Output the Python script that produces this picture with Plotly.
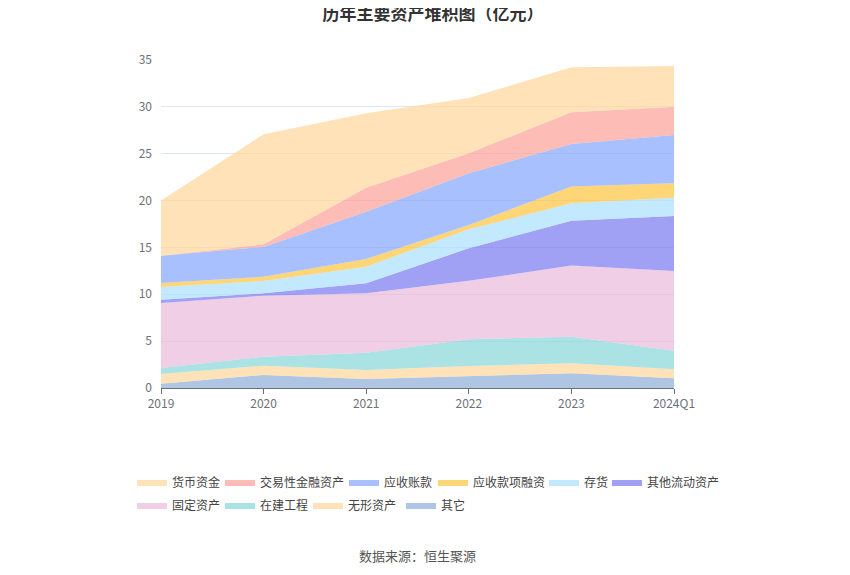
import plotly.graph_objects as go

# categories and values (亿元)
years = ['2019', '2020', '2021', '2022', '2023', '2024Q1']

# stacking order: bottom first
qita = [0.45, 1.39, 0.96, 1.28, 1.57, 1.03]          # 其它
wuxing = [1.05, 0.99, 0.96, 1.07, 1.06, 0.96]        # 无形资产
zaijian = [0.64, 0.96, 1.85, 2.84, 2.85, 1.99]       # 在建工程
guding = [6.93, 6.51, 6.33, 6.26, 7.58, 8.51]        # 固定资产
qita_liudong = [0.36, 0.25, 1.07, 3.46, 4.80, 5.87]  # 其他流动资产
cunhuo = [1.36, 1.32, 1.78, 2.02, 1.85, 1.95]        # 存货
rongzi = [0.42, 0.46, 0.82, 0.47, 1.78, 1.53]        # 应收款项融资
zhangkuan = [2.89, 3.17, 5.05, 5.51, 4.55, 5.16]     # 应收账款
jiaoyi = [0.0, 0.28, 2.56, 2.13, 3.38, 3.02]         # 交易性金融资产
huobi = [5.9, 11.74, 7.93, 5.91, 4.80, 4.35]         # 货币资金

series = [
    ('其它', qita, (139, 172, 217)),
    ('无形资产', wuxing, (255, 214, 153)),
    ('在建工程', zaijian, (135, 215, 216)),
    ('固定资产', guding, (232, 185, 219)),
    ('其他流动资产', qita_liudong, (120, 121, 240)),
    ('存货', cunhuo, (168, 224, 255)),
    ('应收款项融资', rongzi, (255, 197, 61)),
    ('应收账款', zhangkuan, (133, 165, 255)),
    ('交易性金融资产', jiaoyi, (253, 159, 152)),
    ('货币资金', huobi, (255, 214, 153)),
]

# legend entries laid out like the original: (name, left px of swatch, row)
legend_pos = [
    ('货币资金', 137, 0), ('交易性金融资产', 225, 0), ('应收账款', 349, 0),
    ('应收款项融资', 438, 0), ('存货', 549, 0), ('其他流动资产', 612, 0),
    ('固定资产', 137, 1), ('在建工程', 225, 1), ('无形资产', 313, 1), ('其它', 406, 1),
]
row_y = [-0.2866, -0.3567]

font = 'Noto Sans CJK SC'
fig = go.Figure()
legend_layout = {}
legend_of = {}
for i, (name, px, row) in enumerate(legend_pos):
    key = 'legend' if i == 0 else 'legend%d' % (i + 1)
    legend_layout[key] = dict(orientation='h', xanchor='left', yanchor='middle',
                              x=(px - 5 - 161) / 513, y=row_y[row],
                              bgcolor='rgba(0,0,0,0)', itemwidth=30,
                              font=dict(family=font, size=12, color='#444'))
    legend_of[name] = key

for name, vals, c in series:
    fig.add_trace(go.Scatter(
        x=years, y=vals, name=name, mode='lines', showlegend=True,
        stackgroup='one', line=dict(width=0, color='rgb(%d,%d,%d)' % c),
        fillcolor='rgba(%d,%d,%d,0.7)' % c,
        legend=legend_of[name],
    ))

fig.update_layout(
    width=850, height=575, showlegend=True,
    margin=dict(l=153, r=184, t=52, b=195),
    paper_bgcolor='white', plot_bgcolor='white',
    title=dict(text='<b>历年主要资产堆积图（亿元）</b>', x=0.5, xanchor='center',
               y=0.99, yanchor='middle',
               font=dict(family=font, size=17, color='#333')),
    xaxis=dict(type='category', range=[0, 5], showline=True, linecolor='#6E7079',
               ticks='outside', ticklen=5, tickcolor='#6E7079', showgrid=False,
               tickfont=dict(family=font, size=12, color='#6E7079')),
    yaxis=dict(range=[0, 35], dtick=5, showline=False, zeroline=False,
               gridcolor='#E0E6F1', ticks='', ticklabelstandoff=8,
               tickfont=dict(family=font, size=12, color='#6E7079')),
    annotations=[dict(text='数据来源：恒生聚源', xref='paper', yref='paper',
                      x=0.5, y=-0.511, xanchor='center', yanchor='middle', showarrow=False,
                      font=dict(family=font, size=13, color='#555'))],
)
fig.update_layout(legend_layout)
fig.write_html('out.html')
